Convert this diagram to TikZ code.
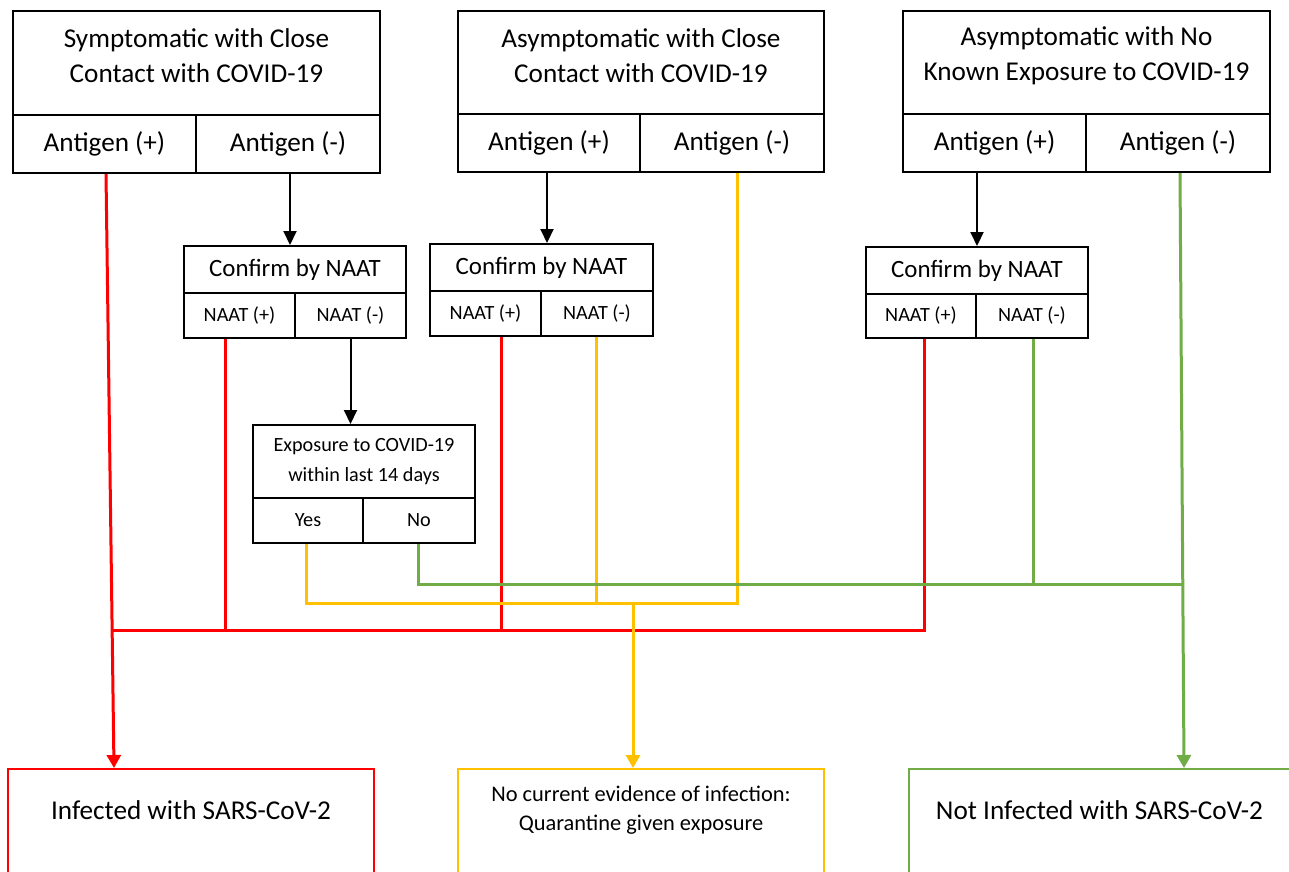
\documentclass[tikz,border=0pt]{standalone}
\usepackage{fontspec}
\setmainfont{Carlito}
\usetikzlibrary{arrows.meta}
\definecolor{cred}{HTML}{FF0000}
\definecolor{cyel}{HTML}{FFC000}
\definecolor{cgrn}{HTML}{70AD47}
\tikzset{
  cell/.style={draw=black, line width=2pt, inner sep=0pt, fill=white},
  big/.style={font=\fontsize{27.2}{35}\selectfont, align=center, inner sep=0pt},
  mid/.style={font=\fontsize{24.9}{30}\selectfont, align=center, inner sep=0pt},
  sml/.style={font=\fontsize{20.2}{30}\selectfont, align=center, inner sep=0pt},
  qtx/.style={font=\fontsize{22.4}{29}\selectfont, align=center, inner sep=0pt},
  blk/.style={draw=black, line width=2pt, -{Triangle[width=13pt,length=14pt]}},
  conn/.style={line width=3pt},
  conna/.style={line width=3pt, -{Triangle[width=14pt,length=13pt]}},
  outbox/.style={draw=#1, line width=2pt, inner sep=0pt, fill=white},
}
\begin{document}
\begin{tikzpicture}[x=1pt,y=-1pt]
\useasboundingbox (0,0) rectangle (1289,871);
\clip (0,0) rectangle (1289,871);
\fill[white] (0,0) rectangle (1289,871);

% Top boxes
\node[cell, minimum width=367pt, minimum height=104pt] (h1) at (196.5,63) {};
\node[big] (h1t) at (196.5,55.5) {Symptomatic with Close\\Contact with COVID-19};
\node[cell, big, minimum width=183pt, minimum height=58pt] (b1p) at (104.5,144) {Antigen (+)};
\node[cell, big, minimum width=184pt, minimum height=58pt] (b1m) at (288,144) {Antigen (-)};

\node[cell, minimum width=366pt, minimum height=103pt] (h2) at (641,62.5) {};
\node[big] (h2t) at (641,55.5) {Asymptomatic with Close\\Contact with COVID-19};
\node[cell, big, minimum width=182pt, minimum height=58pt] (b2p) at (549,143) {Antigen (+)};
\node[cell, big, minimum width=184pt, minimum height=58pt] (b2m) at (732,143) {Antigen (-)};

\node[cell, minimum width=367pt, minimum height=103pt] (h3) at (1086.5,62.5) {};
\node[big] (h3t) at (1086.5,55.5) {Asymptomatic with No\\Known Exposure to COVID-19};
\node[cell, big, minimum width=183pt, minimum height=58pt] (b3p) at (994.5,143) {Antigen (+)};
\node[cell, big, minimum width=184pt, minimum height=58pt] (b3m) at (1178,143) {Antigen (-)};

% NAAT boxes
\node[cell, mid, minimum width=222pt, minimum height=47pt] (n1) at (295,269.5) {Confirm by NAAT};
\node[cell, sml, minimum width=111pt, minimum height=45pt] (n1p) at (239.5,315.5) {NAAT (+)};
\node[cell, sml, minimum width=111pt, minimum height=45pt] (n1m) at (350.5,315.5) {NAAT (-)};

\node[cell, mid, minimum width=223pt, minimum height=47pt] (n2) at (541.5,267.5) {Confirm by NAAT};
\node[cell, sml, minimum width=111pt, minimum height=45pt] (n2p) at (485.5,313.5) {NAAT (+)};
\node[cell, sml, minimum width=112pt, minimum height=45pt] (n2m) at (597,313.5) {NAAT (-)};

\node[cell, mid, minimum width=222pt, minimum height=47pt] (n3) at (977,270.5) {Confirm by NAAT};
\node[cell, sml, minimum width=110pt, minimum height=44pt] (n3p) at (921,316) {NAAT (+)};
\node[cell, sml, minimum width=112pt, minimum height=44pt] (n3m) at (1032,316) {NAAT (-)};

% Exposure box
\node[cell, minimum width=222pt, minimum height=73pt] (ex) at (364,461.5) {};
\node[sml] (ext) at (364,461.5) {Exposure to COVID-19\\within last 14 days};
\node[cell, sml, minimum width=110pt, minimum height=45pt] (ey) at (308,520.5) {Yes};
\node[cell, sml, minimum width=112pt, minimum height=45pt] (en) at (419,520.5) {No};

% Outcome boxes
\node[outbox=cred, minimum width=366pt, minimum height=140pt, anchor=north] (inf) at (191,768) {};
\node[big] (inft) at (191,810) {Infected with SARS-CoV-2};
\node[outbox=cyel, minimum width=366pt, minimum height=140pt, anchor=north] (qua) at (641,768) {};
\node[qtx] (quat) at (641,810.5) {No current evidence of infection:\\Quarantine given exposure};
\node[outbox=cgrn, minimum width=381pt, minimum height=140pt, anchor=north] (ninf) at (1099.5,768) {};
\node[big] (ninft) at (1099.5,810) {Not Infected with SARS-CoV-2};

% Junction coordinates
\coordinate (rj) at (113,630);
\coordinate (ry) at (0,603);
\coordinate (gy) at (0,584);
\coordinate (yj) at (633,603);
\coordinate (gj) at (1182,584);

% Black arrows
\draw[blk] ([xshift=2pt]b1m.south) -- ([xshift=2pt]b1m.south |- n1.north);
\draw[blk] ([xshift=-2pt]b2p.south) -- ([xshift=-2pt]b2p.south |- n2.north);
\draw[blk] (n3.north |- b3p.south) -- (n3.north);
\draw[blk] (n1m.south) -- (n1m.south |- ex.north);

% Red connectors
\draw[conna, cred] ([xshift=1.5pt]b1p.south) -- ([xshift=-77pt]inf.north);
\draw[conn, cred] ([xshift=-14.5pt]n1p.south) |- (rj);
\draw[conn, cred] ([xshift=15.5pt]n2p.south) -- ([xshift=15.5pt]n2p.south |- rj);
\draw[conn, cred] ([xshift=3pt]n3p.south) |- ([xshift=-14.5pt]n1p.south |- rj);

% Yellow connectors
\draw[conn, cyel] ([xshift=-2pt]ey.south) |- ([xshift=5pt]b2m.south |- ry) -- ([xshift=5pt]b2m.south);
\draw[conn, cyel] ([xshift=-1pt]n2m.south) -- ([xshift=-1pt]n2m.south |- ry);
\draw[conna, cyel] (yj) -- (yj |- qua.north);

% Green connectors
\draw[conn, cgrn] ([xshift=-1pt]en.south) |- (gj);
\draw[conn, cgrn] ([xshift=1pt]n3m.south) -- ([xshift=1pt]n3m.south |- gy);
\draw[conna, cgrn] ([xshift=2pt]b3m.south) -- ([xshift=84.5pt]ninf.north);
\end{tikzpicture}
\end{document}
